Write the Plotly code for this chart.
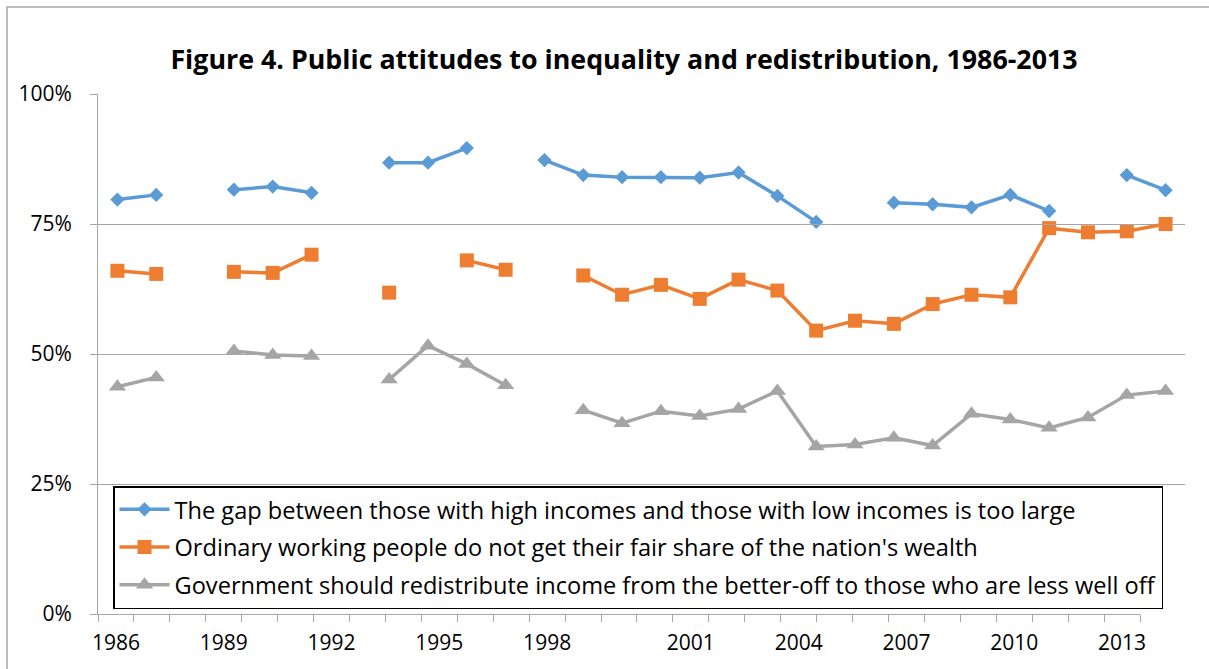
import plotly.graph_objects as go

# ---------------- data ----------------
YEARS = [1986, 1987, 1988, 1989, 1990, 1991, 1992, 1993, 1994, 1995, 1996, 1997, 1998, 1999,
         2000, 2001, 2002, 2003, 2004, 2005, 2006, 2007, 2008, 2009, 2010, 2011, 2012, 2013]

GAP_TOO_LARGE = [79.7, 80.6, None, 81.6, 82.2, 81.0, None, 86.8, 86.8, 89.6, None, 87.3, 84.4, 84.0,
                 84.0, 83.9, 84.9, 80.4, 75.4, None, 79.1, 78.8, 78.2, 80.6, 77.5, None, 84.4, 81.5]

FAIR_SHARE = [66.0, 65.4, None, 65.8, 65.6, 69.1, None, 61.8, None, 68.0, 66.2, None, 65.1, 61.4,
              63.3, 60.6, 64.3, 62.2, 54.5, 56.4, 55.8, 59.6, 61.4, 60.9, 74.2, 73.4, 73.6, 75.0]

REDISTRIBUTE = [43.7, 45.5, None, 50.6, 49.8, 49.6, None, 45.1, 51.6, 48.1, 44.0, None, 39.2, 36.7,
                39.0, 38.1, 39.4, 42.9, 32.2, 32.6, 33.9, 32.4, 38.5, 37.4, 35.8, 37.8, 42.1, 42.9]

SERIES_NAMES = [
    "The gap between those with high incomes and those with low incomes is too large",
    "Ordinary working people do not get their fair share of the nation's wealth",
    "Government should redistribute income from the better-off to those who are less well off",
]

Y_TICK_VALUES = [0, 25, 50, 75, 100]
Y_TICK_LABELS = ["0%", "25%", "50%", "75%", "100%"]

# printed category axis: 29 slots, labels on selected slots
X_AXIS_SLOTS = 29
X_TICK_SLOTS = [0, 3, 6, 9, 12, 16, 19, 22, 25, 28]
X_TICK_LABELS = ["1986", "1989", "1992", "1995", "1998", "2001", "2004", "2007", "2010", "2013"]

TITLE = "Figure 4. Public attitudes to inequality and redistribution, 1986-2013"

# ---------------- style ----------------
W, H = 1209, 669
PL, PR, PT, PB = 98, 1185, 94, 614          # plot area in pixels
AXIS_END = 1140                              # printed axis ends here
FONT = "Open Sans"
GRID = "#a6a6a6"
COLORS = ["#5B9BD5", "#ED7D31", "#A5A5A5"]
SYMBOLS = ["diamond", "square", "triangle-up"]
SIZES = [11, 14, 15]

fig = go.Figure()
for name, vals, col, sym, sz in zip(SERIES_NAMES, [GAP_TOO_LARGE, FAIR_SHARE, REDISTRIBUTE],
                                    COLORS, SYMBOLS, SIZES):
    fig.add_trace(go.Scatter(
        x=YEARS, y=vals, name=name, mode="lines+markers",
        line=dict(color=col, width=3.5), connectgaps=False,
        marker=dict(symbol=sym, size=sz, color=col, line=dict(width=0)),
        legendgroup=name,
    ))

# empty trace to create the printed-axis subplot
fig.add_trace(go.Scatter(x=[], y=[], xaxis="x2", yaxis="y", showlegend=False, hoverinfo="skip"))

plot_w = PR - PL
plot_h = PB - PT

fig.update_layout(
    width=W, height=H,
    margin=dict(l=PL, r=W - PR, t=PT, b=H - PB, pad=0),
    paper_bgcolor="white", plot_bgcolor="rgba(0,0,0,0)",
    font=dict(family=FONT, size=21, color="black"),
    title=dict(text="<b>" + TITLE + "</b>", x=624 / W, xanchor="center",
               y=1 - 60 / H, yanchor="middle", font=dict(family=FONT, size=26.8, color="black")),
    showlegend=True,
    legend=dict(
        x=(113 - PL) / plot_w, y=(PB - 486) / plot_h, xanchor="left", yanchor="top",
        bordercolor="black", borderwidth=1.5, bgcolor="white",
        font=dict(family=FONT, size=23.6, color="black"),
        traceorder="grouped", tracegroupgap=4, itemwidth=50,
    ),
    xaxis=dict(range=[YEARS[0] - 0.5, YEARS[-1] + 0.5], showgrid=False, zeroline=False,
               showline=False, showticklabels=False, ticks="", domain=[0, 1]),
    xaxis2=dict(
        anchor="y", domain=[0, (AXIS_END - PL) / plot_w], range=[0, X_AXIS_SLOTS],
        tickmode="array", tickvals=[s + 0.5 for s in X_TICK_SLOTS], ticktext=X_TICK_LABELS,
        ticks="outside", ticklen=0, showgrid=False, zeroline=False,
        showline=True, linecolor=GRID, linewidth=1,
        ticklabelstandoff=10,
        tickfont=dict(family=FONT, size=21, color="black"),
        minor=dict(ticks="outside", ticklen=7, tickcolor=GRID, tick0=0, dtick=1, showgrid=False),
    ),
    yaxis=dict(
        range=[0, 100], tickmode="array", tickvals=Y_TICK_VALUES, ticktext=Y_TICK_LABELS,
        showgrid=True, gridcolor=GRID, gridwidth=1, zeroline=False,
        showline=True, linecolor=GRID, linewidth=1,
        ticks="outside", ticklen=7, tickcolor=GRID, ticklabelstandoff=14,
        tickfont=dict(family=FONT, size=21, color="black"),
    ),
    shapes=[dict(type="rect", xref="paper", yref="paper",
                 x0=(7 - PL) / plot_w, x1=(W + 10 - PL) / plot_w,
                 y0=(PB - H - 10) / plot_h, y1=(PB - 7) / plot_h,
                 line=dict(color=GRID, width=1.5), fillcolor="rgba(0,0,0,0)", layer="below")],
)

fig.write_html("out.html")
